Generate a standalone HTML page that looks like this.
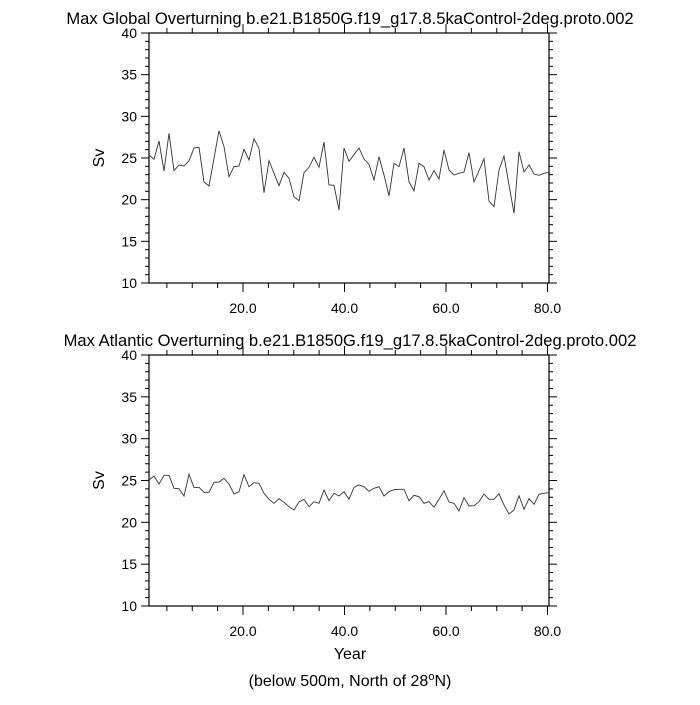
<!DOCTYPE html>
<html><head><meta charset="utf-8"><style>
body{margin:0;background:#fff}
text{font-family:"Liberation Sans",sans-serif;fill:#000}
</style></head><body>
<svg width="700" height="700" xmlns="http://www.w3.org/2000/svg" id="s"></svg>
<script>
const s=document.getElementById('s');
const NS='http://www.w3.org/2000/svg';
function el(t,a,txt){const e=document.createElementNS(NS,t);for(const k in a)e.setAttribute(k,a[k]);if(txt!==undefined)e.textContent=txt;s.appendChild(e);return e;}
const L=149,R=549;
function xOf(yr){return 141.5+5.075*yr;}
function panel(top,bot,title,ys){
  el('text',{x:350,y:top-9,'text-anchor':'middle','font-size':'16.6'},title);
  el('rect',{x:L,y:top,width:R-L,height:bot-top,fill:'none',stroke:'#000','stroke-width':1.2});
  const h=bot-top;
  for(let v=10;v<=40;v++){
    const y=bot-(v-10)/30*h;const maj=v%5==0;const len=maj?8:4;
    el('line',{x1:L-len,y1:y,x2:L,y2:y,stroke:'#000','stroke-width':1});
    el('line',{x1:R,y1:y,x2:R+len,y2:y,stroke:'#000','stroke-width':1});
    if(maj)el('text',{x:L-12,y:y+5,'text-anchor':'end','font-size':'14'},String(v));
  }
  for(let yr=5;yr<=80;yr+=5){
    const x=xOf(yr);const maj=yr%20==0;const len=maj?9:5;
    el('line',{x1:x,y1:bot,x2:x,y2:bot+len,stroke:'#000','stroke-width':1});
    el('line',{x1:x,y1:top-len,x2:x,y2:top,stroke:'#000','stroke-width':1});
    if(maj)el('text',{x:x,y:bot+30,'text-anchor':'middle','font-size':'14'},yr+'.0');
  }
  const cy=(top+bot)/2;
  el('text',{x:104,y:cy,'text-anchor':'middle','font-size':'16',transform:`rotate(-90 104 ${cy})`},'Sv');
  let p='';ys.forEach((y,i)=>{p+=(i?'L':'M')+(L+i*5).toFixed(1)+' '+y.toFixed(1)+' ';});
  el('path',{d:p,fill:'none',stroke:'#333','stroke-width':0.9});
}
const z1=[105,118,63,153,40,152,135,138,122,84,82,186,198,115,32,80,170,140,138,88,120,56,85,218,122,160,197,157,175,230,242,158,142,112,142,66,195,196,270];
const z2=[84,124,104,84,117,133,180,110,165,228,130,140,84,185,213,130,140,180,152,177,90,150,165,160,156,98,186,152,116,243,260,150,108,195,280,95,156,135,162,166,160,157];
const y1=z1.map(z=>120+z/3).concat(z2.map(z=>120+z/3));
const z3=[60,48,72,46,46,85,86,108,43,83,82,97,97,67,66,55,72,102,95,44,80,68,70,100,118,130,116,127,140,150,126,118,140,125,130,90,122,100,108,95];
const z4=[118,82,75,80,94,85,80,108,95,89,88,88,122,106,110,130,125,142,118,92,126,130,153,113,138,137,125,102,118,118,101,135,162,150,107,148,116,133,103,100,98];
const y2=z3.map(z=>460+z/3).concat(z4.map(z=>460+z/3));
panel(33,283,'Max Global Overturning b.e21.B1850G.f19_g17.8.5kaControl-2deg.proto.002',y1);
panel(355,606,'Max Atlantic Overturning b.e21.B1850G.f19_g17.8.5kaControl-2deg.proto.002',y2);
el('text',{x:350,y:659,'text-anchor':'middle','font-size':'16'},'Year');
const t=el('text',{x:350,y:686,'text-anchor':'middle','font-size':'16'});
t.innerHTML='(below 500m, North of 28<tspan dy="-6" font-size="11">o</tspan><tspan dy="6">N)</tspan>';
</script>
</body></html>
